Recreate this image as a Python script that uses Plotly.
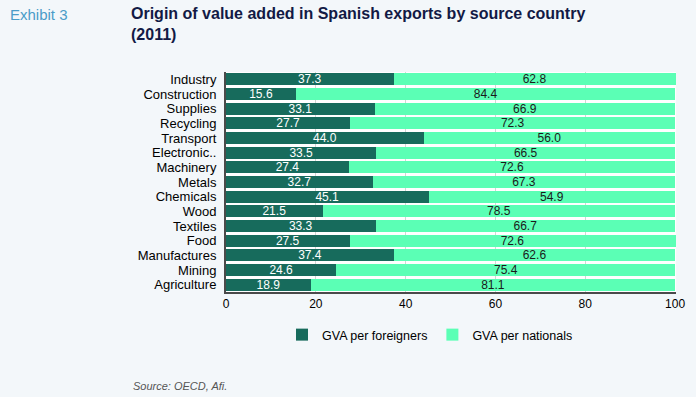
import plotly.graph_objects as go

categories = ["Industry", "Construction", "Supplies", "Recycling", "Transport", "Electronic..",
              "Machinery", "Metals", "Chemicals", "Wood", "Textiles", "Food",
              "Manufactures", "Mining", "Agriculture"]
foreigners = [37.3, 15.6, 33.1, 27.7, 44.0, 33.5, 27.4, 32.7, 45.1, 21.5, 33.3, 27.5, 37.4, 24.6, 18.9]
nationals = [62.8, 84.4, 66.9, 72.3, 56.0, 66.5, 72.6, 67.3, 54.9, 78.5, 66.7, 72.6, 62.6, 75.4, 81.1]
x_ticks = [0, 20, 40, 60, 80, 100]

DARK = "#176B5C"
LIGHT = "#5BFFB5"
FONT = "Liberation Sans, Arial, sans-serif"

L, R, T, B = 226, 20, 72, 105
W, H = 696, 397
PW = W - L - R
PH = H - T - B

fig = go.Figure()
fig.add_trace(go.Bar(
    y=categories, x=foreigners, orientation="h", name="GVA per foreigners",
    marker=dict(color=DARK, line=dict(width=0)),
    text=[f"{v:.1f}" for v in foreigners], textposition="inside", insidetextanchor="middle",
    textfont=dict(color="white", size=12, family=FONT), cliponaxis=False,
))
fig.add_trace(go.Bar(
    y=categories, x=nationals, orientation="h", name="GVA per nationals",
    marker=dict(color=LIGHT, line=dict(width=0)),
    text=[f"{v:.1f}" for v in nationals], textposition="inside", insidetextanchor="middle",
    textfont=dict(color="#1a1a1a", size=12, family=FONT), cliponaxis=False,
))

fig.update_layout(
    barmode="stack",
    bargap=0.17,
    width=W, height=H,
    paper_bgcolor="#F3F7FA",
    plot_bgcolor="white",
    margin=dict(l=L, r=R, t=T, b=B, autoexpand=False),
    font=dict(family=FONT, size=12, color="black"),
    uniformtext=dict(minsize=8, mode="show"),
    xaxis=dict(range=[0, 100.2], tickvals=x_ticks, showgrid=True, gridcolor="#D3D3D3",
               gridwidth=1, zeroline=False, showline=True, linecolor="#4a4a4a", linewidth=2,
               ticks="", tickfont=dict(size=12, color="black"), automargin=False),
    yaxis=dict(autorange="reversed", showline=True, linecolor="#4a4a4a", linewidth=2,
               tickmode="array", tickvals=categories, ticklabelstandoff=5,
               ticks="", tickfont=dict(size=13, color="black"), automargin=False),
    legend=dict(orientation="h", x=(430 - L) / PW, xanchor="center", y=-28 / PH, yanchor="top",
                font=dict(size=12.5, color="black"), bgcolor="rgba(0,0,0,0)",
                itemwidth=30, traceorder="normal"),
    showlegend=True,
)

fig.add_annotation(text="Exhibit 3", xref="paper", yref="paper", x=(8 - L) / PW, xanchor="left",
                   y=1, yshift=T - 4, yanchor="top",
                   showarrow=False, font=dict(size=15, color="#4A9CC8", family=FONT))
fig.add_annotation(text="<b>Origin of value added in Spanish exports by source country<br>(2011)</b>",
                   xref="paper", yref="paper", x=(129 - L) / PW, xanchor="left", align="left",
                   y=1, yshift=T - 3, yanchor="top",
                   showarrow=False, font=dict(size=16, color="#121A45", family=FONT))
fig.add_annotation(text="<i>Source: OECD, Afi.</i>", xref="paper", yref="paper",
                   x=(131 - L) / PW, xanchor="left", y=0, yshift=-(378 - (H - B)), yanchor="top",
                   showarrow=False, font=dict(size=11, color="#555555", family=FONT))

fig.write_html("out.html", config={"displayModeBar": False})

with open("out.html", "r", encoding="utf-8") as f:
    html = f.read()
html = html.replace("<body>", '<body style="margin:0;padding:0;overflow:hidden;">', 1)
with open("out.html", "w", encoding="utf-8") as f:
    f.write(html)
